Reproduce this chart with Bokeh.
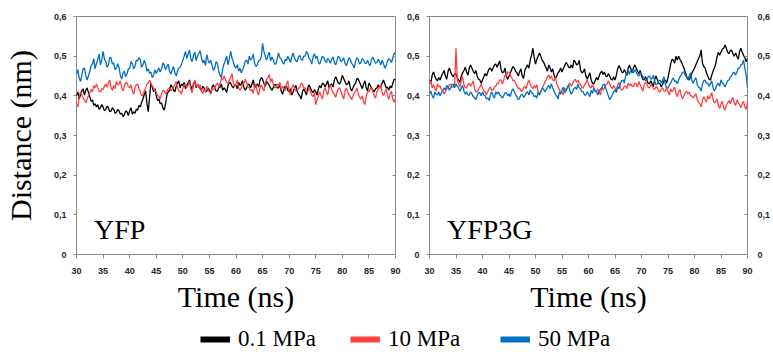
from bokeh.plotting import figure
from bokeh.layouts import column, row
from bokeh.models import (Range1d, LinearAxis, FixedTicker, Label, Legend, LegendItem,
                          CustomJSTickFormatter, ColumnDataSource)
from bokeh.embed import file_html
from bokeh.resources import INLINE

# ---------------- data ----------------
series_labels = ["0.1 MPa", "10 MPa", "50 MPa"]
colors = ["#000000", "#FF4040", "#0070C0"]
x_ticks = [30, 35, 40, 45, 50, 55, 60, 65, 70, 75, 80, 85, 90]
y_ticks = [0, 0.1, 0.2, 0.3, 0.4, 0.5, 0.6]
t_start, t_end = 30, 90

# YFP panel (distance in nm, sampled every 0.25 ns from 30 to 90 ns)
yfp_01 = [
    .400, .410, .392, .402, .412, .418, .402, .414, .420, .408, .398, .386, .390, .376, .380, .372, .378, .366, .370, .378,
    .372, .362, .366, .374, .370, .360, .362, .370, .366, .356, .358, .366, .362, .354, .356, .348, .352, .362, .360, .350,
    .362, .370, .354, .360, .356, .366, .364, .376, .372, .384, .392, .404, .412, .380, .360, .398, .432, .422, .410, .418,
    .400, .388, .392, .380, .382, .370, .364, .380, .402, .410, .414, .428, .422, .414, .410, .424, .432, .438, .420, .430,
    .426, .434, .418, .426, .432, .440, .424, .416, .430, .436, .420, .428, .426, .418, .414, .424, .420, .410, .412, .420,
    .414, .406, .422, .428, .420, .412, .412, .420, .422, .430, .414, .420, .416, .408, .426, .434, .432, .424, .420, .428,
    .426, .418, .434, .426, .430, .438, .420, .414, .420, .430, .428, .420, .430, .440, .420, .426, .430, .422, .438, .446,
    .442, .432, .424, .436, .432, .426, .420, .414, .420, .428, .428, .420, .420, .428, .412, .404, .416, .424, .424, .414,
    .410, .418, .402, .410, .420, .426, .412, .404, .400, .392, .410, .418, .410, .402, .420, .428, .420, .412, .408, .416,
    .410, .402, .418, .426, .420, .432, .430, .422, .430, .438, .420, .428, .430, .422, .440, .448, .440, .432, .430, .438,
    .452, .444, .436, .428, .430, .438, .420, .412, .420, .428, .432, .444, .442, .434, .426, .418, .430, .438, .420, .412,
    .432, .426, .420, .414, .410, .418, .420, .428, .420, .426, .432, .440, .430, .420, .422, .414, .425, .420, .432, .442,
    .440]
yfp_10 = [
    .380, .372, .398, .410, .402, .394, .390, .382, .392, .400, .408, .416, .410, .426, .420, .430, .420, .412, .410, .418,
    .416, .424, .430, .422, .432, .440, .420, .414, .426, .418, .436, .428, .430, .438, .420, .412, .425, .434, .432, .424,
    .420, .428, .412, .404, .420, .428, .430, .418, .410, .400, .402, .412, .420, .430, .432, .440, .432, .424, .420, .412,
    .410, .400, .398, .392, .405, .414, .412, .404, .410, .418, .420, .412, .416, .424, .428, .436, .420, .412, .412, .404,
    .420, .428, .430, .422, .426, .436, .416, .408, .432, .440, .422, .430, .420, .428, .412, .406, .416, .410, .424, .416,
    .410, .404, .420, .414, .420, .428, .432, .424, .430, .444, .440, .450, .442, .434, .430, .440, .446, .456, .432, .424,
    .430, .440, .420, .414, .420, .428, .432, .442, .432, .424, .420, .412, .416, .406, .424, .430, .410, .402, .420, .428,
    .420, .412, .432, .442, .446, .454, .434, .444, .430, .422, .420, .430, .426, .434, .416, .424, .420, .412, .430, .438,
    .410, .402, .420, .428, .420, .412, .412, .420, .420, .432, .430, .420, .420, .412, .410, .420, .410, .402, .398, .408,
    .378, .390, .400, .410, .400, .392, .412, .420, .410, .402, .420, .428, .416, .408, .404, .396, .410, .418, .420, .412,
    .400, .392, .412, .420, .410, .402, .398, .390, .400, .408, .412, .420, .405, .396, .392, .400, .385, .378, .400, .410,
    .410, .418, .420, .410, .400, .394, .410, .418, .420, .428, .408, .400, .410, .418, .400, .392, .405, .412, .390, .384,
    .395]
yfp_50 = [
    .455, .466, .445, .436, .452, .468, .470, .452, .440, .450, .462, .476, .480, .494, .468, .481, .492, .505, .478, .490,
    .512, .493, .486, .472, .478, .497, .495, .480, .483, .466, .470, .481, .472, .451, .442, .458, .462, .448, .455, .468,
    .470, .486, .482, .468, .474, .490, .488, .496, .492, .472, .478, .489, .480, .462, .468, .457, .460, .446, .452, .466,
    .456, .464, .470, .460, .468, .483, .478, .466, .474, .480, .462, .455, .466, .474, .458, .450, .462, .470, .472, .480,
    .490, .500, .512, .494, .505, .516, .494, .486, .502, .510, .488, .500, .506, .514, .496, .483, .490, .476, .504, .490,
    .482, .490, .476, .464, .470, .486, .482, .462, .452, .446, .468, .480, .490, .500, .478, .494, .512, .495, .486, .474,
    .470, .478, .462, .470, .458, .466, .475, .488, .490, .480, .500, .490, .495, .505, .482, .474, .478, .488, .490, .498,
    .532, .512, .500, .490, .502, .510, .488, .498, .492, .480, .480, .494, .508, .496, .494, .484, .480, .492, .488, .500,
    .492, .484, .500, .508, .496, .488, .486, .498, .502, .492, .490, .500, .500, .512, .506, .494, .490, .480, .498, .506,
    .494, .500, .484, .480, .490, .500, .497, .488, .484, .494, .490, .482, .492, .498, .484, .478, .490, .500, .496, .486,
    .490, .496, .482, .476, .486, .496, .492, .482, .478, .470, .488, .496, .492, .480, .484, .494, .490, .482, .482, .490,
    .480, .476, .492, .498, .490, .482, .484, .492, .486, .478, .490, .480, .470, .476, .488, .494, .490, .484, .496, .508,
    .505]

# YFP3G panel
yfp3g_01 = [
    .440, .432, .452, .460, .450, .442, .438, .446, .440, .450, .456, .464, .450, .442, .462, .470, .460, .452, .448, .456,
    .455, .446, .440, .434, .450, .458, .464, .472, .460, .452, .470, .478, .470, .462, .456, .464, .450, .442, .440, .432,
    .440, .448, .456, .450, .460, .468, .470, .462, .470, .478, .480, .472, .480, .488, .466, .458, .460, .470, .450, .442,
    .450, .458, .466, .474, .470, .462, .458, .450, .460, .468, .450, .444, .465, .472, .478, .470, .490, .502, .520, .498,
    .480, .492, .500, .508, .500, .490, .486, .478, .470, .462, .478, .470, .460, .468, .452, .444, .450, .458, .462, .470,
    .460, .468, .476, .484, .480, .472, .470, .478, .470, .490, .486, .478, .480, .490, .466, .458, .460, .468, .450, .442,
    .450, .458, .440, .432, .430, .438, .446, .440, .450, .458, .462, .454, .460, .450, .448, .456, .450, .442, .440, .448,
    .440, .452, .468, .476, .470, .460, .458, .466, .460, .452, .470, .478, .465, .458, .472, .478, .470, .462, .456, .464,
    .450, .442, .440, .448, .440, .432, .430, .438, .430, .424, .442, .450, .440, .432, .430, .422, .430, .438, .440, .432,
    .445, .462, .480, .492, .490, .482, .500, .490, .500, .492, .486, .478, .470, .460, .450, .442, .440, .448, .456, .464,
    .470, .478, .486, .494, .500, .516, .482, .474, .470, .458, .450, .442, .440, .452, .462, .470, .480, .498, .510, .502,
    .510, .518, .520, .528, .520, .510, .506, .514, .515, .506, .500, .508, .500, .492, .512, .520, .510, .502, .496, .486,
    .495]
yfp3g_10 = [
    .430, .438, .420, .428, .420, .412, .430, .422, .425, .416, .412, .404, .410, .418, .420, .428, .430, .422, .422, .430,
    .520, .440, .430, .422, .440, .448, .428, .420, .420, .428, .432, .424, .430, .438, .418, .410, .410, .418, .422, .430,
    .420, .412, .410, .402, .410, .418, .422, .414, .415, .422, .424, .432, .430, .440, .440, .430, .440, .452, .450, .460,
    .460, .452, .446, .438, .440, .432, .426, .418, .420, .412, .412, .420, .425, .418, .432, .440, .430, .422, .418, .426,
    .420, .428, .410, .402, .410, .418, .426, .434, .440, .448, .452, .444, .450, .440, .438, .446, .430, .422, .416, .408,
    .410, .402, .420, .412, .420, .428, .432, .424, .430, .438, .442, .434, .440, .432, .428, .420, .420, .428, .432, .440,
    .430, .422, .420, .428, .420, .412, .410, .418, .410, .402, .422, .414, .420, .428, .430, .438, .430, .422, .418, .426,
    .420, .412, .428, .434, .420, .414, .416, .424, .425, .418, .432, .426, .430, .424, .424, .432, .430, .422, .436, .428,
    .420, .412, .428, .434, .430, .422, .420, .428, .425, .418, .416, .424, .420, .412, .410, .418, .420, .412, .412, .420,
    .410, .402, .418, .410, .415, .422, .406, .398, .410, .416, .400, .392, .400, .408, .412, .404, .410, .400, .400, .394,
    .400, .406, .392, .384, .380, .372, .390, .398, .390, .384, .400, .392, .400, .408, .390, .382, .385, .392, .376, .368,
    .380, .386, .370, .364, .375, .382, .388, .380, .390, .396, .382, .376, .390, .382, .378, .370, .380, .386, .372, .366,
    .385]
yfp3g_50 = [
    .405, .412, .400, .394, .410, .404, .402, .410, .400, .408, .412, .420, .415, .426, .422, .414, .420, .428, .430, .420,
    .430, .424, .420, .412, .420, .426, .412, .404, .410, .402, .402, .410, .405, .398, .396, .390, .400, .408, .408, .400,
    .410, .402, .400, .392, .395, .388, .402, .410, .400, .394, .410, .404, .410, .402, .400, .394, .400, .408, .408, .400,
    .405, .398, .412, .418, .410, .402, .398, .390, .395, .402, .404, .396, .400, .408, .410, .402, .415, .408, .406, .398,
    .400, .394, .410, .402, .410, .420, .418, .410, .415, .422, .426, .418, .430, .420, .412, .404, .400, .392, .410, .404,
    .415, .422, .408, .414, .420, .428, .412, .404, .410, .418, .422, .416, .430, .420, .418, .410, .410, .402, .402, .410,
    .405, .398, .414, .406, .420, .412, .410, .402, .410, .418, .420, .428, .430, .420, .410, .400, .390, .396, .402, .410,
    .415, .408, .424, .418, .430, .438, .440, .432, .450, .458, .462, .454, .470, .462, .458, .466, .460, .452, .450, .458,
    .455, .448, .446, .438, .440, .448, .450, .442, .445, .452, .436, .428, .430, .438, .440, .432, .440, .448, .428, .420,
    .420, .426, .432, .440, .445, .436, .438, .430, .440, .448, .452, .460, .460, .452, .448, .440, .450, .458, .440, .432,
    .440, .446, .430, .422, .420, .412, .430, .438, .440, .432, .432, .424, .430, .438, .420, .412, .420, .428, .432, .424,
    .440, .432, .430, .422, .430, .438, .440, .448, .450, .458, .460, .452, .460, .470, .470, .478, .480, .490, .470, .452,
    .420]

panels = [
    ("YFP", [yfp_01, yfp_10, yfp_50]),
    ("YFP3G", [yfp3g_01, yfp3g_10, yfp3g_50]),
]

# ---------------- styling ----------------
FRAME_COLOR = "#8a8a8a"
TICK_FONT = "Liberation Sans"
SERIF = "Liberation Serif"
TOP_H = 315

comma_fmt = CustomJSTickFormatter(
    code="return tick == 0 ? '0' : tick.toFixed(1).replace('.', ',');")
empty_fmt = CustomJSTickFormatter(code="return '';")


def style_axis(ax):
    ax.axis_line_color = None
    ax.major_tick_line_color = FRAME_COLOR
    ax.minor_tick_line_color = None
    ax.major_label_text_font = TICK_FONT
    ax.major_label_text_font_style = "bold"
    ax.major_label_text_font_size = "9px"
    ax.major_label_text_color = "#262626"
    ax.axis_label_text_font = SERIF
    ax.axis_label_text_font_style = "normal"
    ax.axis_label_text_font_size = "30px"
    ax.axis_label_text_color = "#000000"


def times_for(vals):
    n = len(vals)
    return [t_start + (t_end - t_start) * i / (n - 1) for i in range(n)]


def make_panel(name, data, width, left_border, right_border, first):
    p = figure(width=width, height=TOP_H, x_range=Range1d(30, 90),
               y_range=Range1d(0, 0.6), x_axis_type=None, y_axis_type=None,
               toolbar_location=None, output_backend="svg",
               min_border_left=left_border, min_border_right=right_border,
               min_border_top=16, min_border_bottom=59)
    p.outline_line_color = FRAME_COLOR
    p.outline_line_width = 1
    p.background_fill_color = "white"
    p.border_fill_color = "white"

    xa = LinearAxis(ticker=FixedTicker(ticks=x_ticks), axis_label="Time (ns)")
    style_axis(xa)
    xa.major_tick_out = 4
    xa.major_tick_in = 0
    xa.major_label_standoff = 9
    xa.axis_label_standoff = 3
    p.add_layout(xa, "below")

    yl = LinearAxis(ticker=FixedTicker(ticks=y_ticks), formatter=comma_fmt)
    style_axis(yl)
    yl.major_tick_out = 3
    yl.major_tick_in = 0
    yl.major_label_standoff = 7
    if first:
        yl.axis_label = "Distance (nm)"
        yl.axis_label_standoff = 14
    p.add_layout(yl, "left")

    yr = LinearAxis(ticker=FixedTicker(ticks=y_ticks),
                    formatter=(empty_fmt if first else comma_fmt))
    style_axis(yr)
    yr.major_tick_out = 0
    yr.major_tick_in = 3
    yr.major_label_standoff = 0 if first else 10
    p.add_layout(yr, "right")

    for vals, col in zip(data, colors):
        p.line(times_for(vals), vals, line_color=col, line_width=1.3)

    p.add_layout(Label(x=33.3, y=0.064, text=name, text_font=SERIF,
                       text_font_size="28px", text_color="#000000",
                       text_baseline="alphabetic"))
    return p


p1 = make_panel(panels[0][0], panels[0][1], 403, 75, 8, True)
p2 = make_panel(panels[1][0], panels[1][1], 370, 25, 25, False)

# legend strip
p_leg = figure(width=773, height=352 - TOP_H, x_range=Range1d(0, 1),
               y_range=Range1d(0, 1), x_axis_type=None, y_axis_type=None,
               toolbar_location=None, output_backend="svg", min_border=0)
p_leg.outline_line_color = None
p_leg.background_fill_color = "white"
items = []
for lab, col in zip(series_labels, colors):
    src = ColumnDataSource(data=dict(x=[2, 3], y=[2, 2]))
    r = p_leg.line("x", "y", source=src, line_color=col, line_width=6)
    items.append(LegendItem(label=lab, renderers=[r]))
legend = Legend(items=items, orientation="horizontal", location=(200, 0),
                label_width=112, glyph_width=30, glyph_height=20,
                label_standoff=8, spacing=0, padding=0, margin=0,
                border_line_color=None, background_fill_alpha=0,
                label_text_font=SERIF, label_text_font_size="23px",
                label_text_color="#000000")
p_leg.add_layout(legend, "center")

layout = column(row(p1, p2, spacing=0), p_leg, spacing=0)

open("out.html", "w").write(file_html(layout, INLINE))
